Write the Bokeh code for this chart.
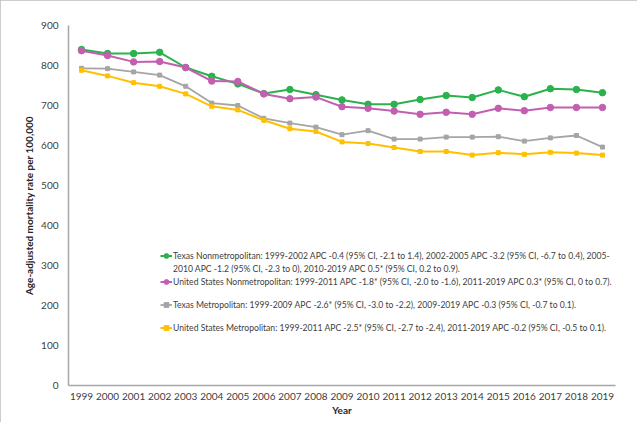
from bokeh.plotting import figure
from bokeh.models import Range1d, FactorRange, Legend, LegendItem, SingleIntervalTicker
from bokeh.embed import file_html
from bokeh.resources import INLINE

years = [str(y) for y in range(1999, 2020)]

texas_nonmetro = [840, 830, 830, 833, 795, 773, 754, 730, 740, 727, 714, 703, 703, 715, 725, 720, 739, 722, 742, 740, 732]
us_nonmetro = [837, 825, 809, 810, 795, 761, 760, 729, 717, 721, 697, 693, 686, 678, 683, 678, 693, 687, 695, 695, 695]
texas_metro = [793, 792, 784, 776, 748, 706, 700, 668, 656, 646, 627, 637, 616, 616, 621, 621, 622, 611, 619, 625, 596]
us_metro = [788, 774, 757, 748, 729, 698, 689, 663, 642, 635, 609, 605, 595, 585, 585, 576, 582, 578, 583, 581, 576]

labels = [
    "Texas Nonmetropolitan: 1999-2002 APC -0.4 (95% CI, -2.1 to 1.4), 2002-2005 APC -3.2 (95% CI, -6.7 to 0.4), 2005-",
    "United States Nonmetropolitan: 1999-2011 APC -1.8* (95% CI, -2.0 to -1.6), 2011-2019 APC 0.3* (95% CI, 0 to 0.7).",
    "Texas Metropolitan: 1999-2009 APC -2.6* (95% CI, -3.0 to -2.2), 2009-2019 APC -0.3 (95% CI, -0.7 to 0.1).",
    "United States Metropolitan: 1999-2011 APC -2.5* (95% CI, -2.7 to -2.4), 2011-2019 APC -0.2 (95% CI, -0.5 to 0.1).",
]
label_cont = "2010 APC -1.2 (95% CI, -2.3 to 0), 2010-2019 APC 0.5* (95% CI, 0.2 to 0.9)."

colors = ["#2bb24c", "#c25fb0", "#a5a5a5", "#ffc000"]
markers = ["circle", "circle", "square", "square"]
msizes = [6.5, 6.5, 4, 4]
lwidths = [2, 2, 1.8, 2]
series = [texas_nonmetro, us_nonmetro, texas_metro, us_metro]

FONT = "Lato"

p = figure(width=637, height=422, x_range=FactorRange(*years, range_padding=0),
           y_range=Range1d(0, 900), output_backend="svg", toolbar_location=None,
           min_border_left=68, min_border_right=22, min_border_top=25, min_border_bottom=37,
           styles={"outline": "1px solid #bdbdbd", "outline-offset": "-1px"})

p.outline_line_color = None
p.xgrid.grid_line_color = None
p.ygrid.grid_line_color = None

renderers = []
for vals, c, mk, ms, lw in zip(series, colors, markers, msizes, lwidths):
    r_line = p.line(years, vals, line_color=c, line_width=lw)
    r_pt = p.scatter(years, vals, marker=mk, size=ms, fill_color=c, line_color=c)
    renderers.append([r_line, r_pt])

# invisible renderer used only to hold the wrapped second line of the first legend entry
blank = p.line(years, texas_nonmetro, line_alpha=0)

p.yaxis.ticker = SingleIntervalTicker(interval=100)
for ax in (p.xaxis[0], p.yaxis[0]):
    ax.axis_line_color = "#a6a6a6"
    ax.axis_line_width = 1.5
    ax.major_tick_line_color = None
    ax.minor_tick_line_color = None
    ax.major_tick_out = 0
    ax.major_tick_in = 0
    ax.minor_tick_out = 0
    ax.major_label_text_font = FONT
    ax.major_label_text_font_size = "10px"
    ax.major_label_text_color = "#404040"
    ax.axis_label_text_font = FONT
    ax.axis_label_text_font_size = "10px"
    ax.axis_label_text_font_style = "bold"
    ax.axis_label_text_color = "#262626"

p.yaxis.axis_label = "Age-adjusted mortality rate per 100,000"
p.xaxis.axis_label = "Year"
p.yaxis.major_label_standoff = 10
p.xaxis.major_label_standoff = 7
p.xaxis.axis_label_standoff = 1
p.yaxis.axis_label_standoff = 3


def make_legend(items, loc, spacing):
    lg = Legend(items=items, location=loc, spacing=spacing, padding=0, margin=0,
                glyph_width=12, glyph_height=13, label_height=13, label_standoff=1,
                border_line_color=None, background_fill_alpha=0,
                label_text_font=FONT, label_text_font_size="8.6px",
                label_text_color="#404040")
    p.add_layout(lg)


make_legend([LegendItem(label=labels[0], renderers=renderers[0]),
             LegendItem(label=label_cont, renderers=[blank]),
             LegendItem(label=labels[1], renderers=renderers[1])], (92, 97), 0)
make_legend([LegendItem(label=labels[2], renderers=renderers[2]),
             LegendItem(label=labels[3], renderers=renderers[3])], (92, 51), 10)

open("out.html", "w").write(file_html(p, INLINE))
